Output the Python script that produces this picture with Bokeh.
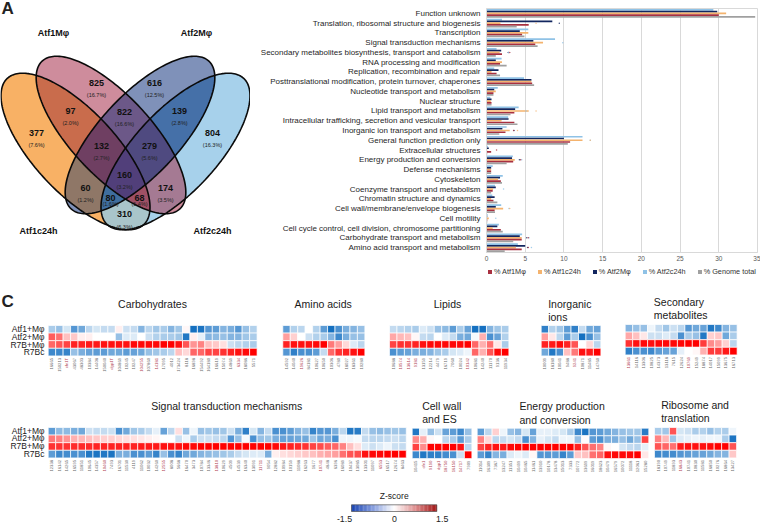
import math
from bokeh.plotting import figure
from bokeh.layouts import column, row
from bokeh.models import FactorRange, Legend, LegendItem, FixedTicker, ColumnDataSource
from bokeh.transform import dodge
from bokeh.core.properties import value
from bokeh.embed import file_html
from bokeh.resources import INLINE

FONT = "Liberation Sans"

# ---------- Panel A values
venn_numbers = ["377", "825", "616", "804", "97", "822", "139", "132", "279", "160", "60", "174", "80", "68", "310"]
venn_percent = ["(7.6%)", "(16.7%)", "(12.5%)", "(16.3%)", "(2.0%)", "(16.6%)", "(2.8%)", "(2.7%)", "(5.6%)",
                "(3.2%)", "(1.2%)", "(3.5%)", "(1.6%)", "(1.4%)", "(6.3%)"]
venn_sets = ["Atf1c24h", "Atf1M\u03c6", "Atf2M\u03c6", "Atf2c24h"]

# ---------- Panel B values
categories = [
    "Function unknown", "Translation, ribosomal structure and biogenesis", "Transcription",
    "Signal transduction mechanisms", "Secondary metabolites biosynthesis, transport and catabolism",
    "RNA processing and modification", "Replication, recombination and repair",
    "Posttranslational modification, protein turnover, chaperones", "Nucleotide transport and metabolism",
    "Nuclear structure", "Lipid transport and metabolism", "Intracellular trafficking, secretion and vesicular transport",
    "Inorganic ion transport and metabolism", "General function prediction only", "Extracellular structures",
    "Energy production and conversion", "Defense mechanisms", "Cytoskeleton", "Coenzyme transport and metabolism",
    "Chromatin structure and dynamics", "Cell wall/membrane/envelope biogenesis", "Cell motility",
    "Cell cycle control, cell division, chromosome partitioning", "Carbohydrate transport and metabolism",
    "Amino acid transport and metabolism"]
atf2c = [29.3, 2.0, 5.4, 8.85, 1.3, 1.95, 1.0, 4.85, 1.45, 0.5, 4.15, 2.8, 2.6, 12.4, 0.2, 3.4, 0.8, 2.1, 1.1, 0.75, 1.9, 0.15, 1.6, 4.6, 4.05]
atf2m = [29.8, 8.5, 4.3, 6.05, 1.9, 1.2, 1.55, 5.8, 1.0, 0.65, 3.7, 2.85, 2.05, 10.0, 0.3, 3.3, 0.6, 1.75, 1.2, 1.05, 1.2, 0.1, 1.4, 4.3, 5.0]
atf1c = [30.95, 1.8, 5.4, 7.3, 1.7, 2.0, 0.65, 5.8, 1.2, 0.55, 5.45, 1.95, 3.0, 12.4, 0.1, 3.65, 0.6, 1.5, 0.85, 0.6, 2.15, 0.3, 0.8, 4.55, 3.8]
atf1m = [30.0, 5.45, 4.6, 6.3, 2.0, 1.75, 1.3, 5.9, 0.9, 0.65, 3.6, 3.6, 2.45, 10.8, 0.6, 3.45, 0.6, 1.85, 0.8, 0.9, 1.05, 0.1, 1.85, 4.55, 4.55]
genome = [34.7, 3.9, 4.9, 6.6, 1.2, 2.6, 1.75, 6.15, 0.9, 0.65, 3.1, 4.0, 1.65, 10.5, 0.1, 2.6, 0.6, 2.0, 0.6, 1.4, 1.1, 0.1, 2.1, 3.45, 2.35]
mark_category = [1, 1, 3, 4, 4, 4, 10, 10, 12, 12, 12, 13, 13, 14, 15, 15, 15, 18, 20, 20, 21, 23, 23, 23, 24, 24, 24]
mark_value = [9.4, 6.4, 9.85, 2.8, 2.85, 3.0, 5.1, 6.4, 3.55, 4.0, 3.5, 13.4, 13.4, 1.3, 4.25, 4.55, 4.4, 2.2, 2.9, 3.0, 1.2, 5.5, 5.2, 5.4, 5.8, 5.3, 5.4]
mark_series = [1, 2, 0, 1, 0, 3, 0, 2, 1, 2, 3, 0, 2, 3, 1, 0, 3, 0, 0, 2, 0, 0, 1, 3, 0, 1, 3]

# ---------- Panel C values
row_names = ["Atf1+M\u03c6", "Atf2+M\u03c6", "R7B+M\u03c6", "R7Bc"]

carb_ids = ["16665", "150213", "cfn1T", "43067", "48303", "10384", "14408", "150040", "dgp1T", "104869", "10245", "10247", "104255", "107860",
            "14181", "17095", "4012", "173424", "8118", "16898", "154492", "164180", "16619", "15074", "14869", "6334", "18086", "5571"]
carb_red = [2, 8, 12, 14, 25]
carb_r1 = [-.5, -.6, -.25, -.95, -.8, -.4, -.25, -.35, -.35, .1, -.3, -.35, -.7, -.4, -.55, -.5, -.7, -.55, .05, -1.4, -1.35, -.95, -.9, -.7, -.75, -.95, -.6, -.45]
carb_r2 = [.95, .85, .4, .35, .1, .1, 0, 0, 0, -.6, -.2, -.2, 0, -.3, -.45, -.5, -.5, -.55, -1.3, .1, -.15, -.7, -.65, -.6, -.7, -.7, -.55, -.5]
carb_r3 = [.9, 1.0, 1.1, 1.3, 1.3, 1.35, 1.35, 1.4, 1.4, 1.4, 1.4, 1.45, 1.45, 1.45, 1.45, 1.5, 1.5, 1.4, 1.0, .65, .75, .4, .35, .2, -.3, -.4, -.45, -.5]
carb_r4 = [-1.1, -1.1, -1.15, -.6, -.75, -.85, -.9, -.9, -.8, -.8, -.9, -.85, -.8, -.6, -.55, -.5, -.4, .4, .25, .9, .9, 1.1, 1.1, 1.2, 1.3, 1.4, 1.45, 1.5]

amino_ids = ["14592", "14040", "19626", "84181", "10627", "10650", "10306", "4780", "18027", "18361", "10280"]
amino_red = [2]
amino_r1 = [-.9, -.45, -.4, 0, -.45, -.9, -1.4, -1.0, -.75, -.7, -.6]
amino_r2 = [.6, .3, 0, -.3, -.45, -.5, -.7, -1.1, -.75, -.6, -.6]
amino_r3 = [1.3, 1.4, 1.4, 1.4, 1.45, 1.5, .8, .6, .25, -.2, -.4]
amino_r4 = [-.95, -1.2, -1.0, -1.0, -.9, -.35, .9, 1.2, 1.3, 1.4, 1.5]

lipid_ids = ["10688", "10574", "13614", "9181", "13159", "12214", "4479", "16719", "7060", "10024", "10142", "10681", "14240", "11170", "9136", "11934"]
lipid_red = [1, 2, 3, 10]
lipid_r1 = [-.35, -.4, -.45, -.5, -.2, -.3, -.6, -.65, -.9, -.5, -.85, -1.4, -1.4, -.7, -.55, -.5]
lipid_r2 = [.55, .45, .4, .05, -.35, -.4, 0, -.2, -.35, -.75, -.8, -.05, .5, -1.0, -.85, -.45]
lipid_r3 = [1.1, 1.2, 1.2, 1.3, 1.4, 1.45, 1.45, 1.45, 1.45, 1.45, 1.5, .9, .5, .85, .15, -.5]
lipid_r4 = [-1.0, -.9, -.85, -.75, -.75, -.7, -.55, -.5, -.25, -.2, -.1, .9, .5, 1.0, 1.45, 1.5]

ion_ids = ["10009", "18180", "10041", "9488", "9241", "10871", "11485", "14760"]
ion_red = [4]
ion_r1 = [-1.2, -.45, -.55, -.9, -1.2, -.35, -.8, -.85]
ion_r2 = [.6, .15, -.4, -.9, -.5, -1.4, -1.0, -.6]
ion_r3 = [1.3, 1.35, 1.45, 1.3, 1.0, 0, .25, -.4]
ion_r4 = [-.8, -1.3, -1.0, .4, .8, 1.4, 1.35, 1.5]

sec_ids = ["13661", "14116", "13306", "10825", "14373", "13118", "7615", "12624", "10769", "15249", "18874", "14017", "15099", "13675", "16713"]
sec_red = [0, 8]
sec_r1 = [-.7, -.6, -.6, -.1, -.35, -.55, -.3, -.4, -.95, -.8, -.85, -1.3, -1.1, -.7, -.6]
sec_r2 = [.55, .4, .15, -.3, -.3, -.2, -.35, -1.0, -.5, -.6, -1.3, .3, .35, -.8, -.5]
sec_r3 = [1.2, 1.4, 1.45, 1.4, 1.45, 1.45, 1.45, 1.45, 1.5, 1.5, 1.15, .7, .6, .3, -.4]
sec_r4 = [-1.2, -1.0, -1.0, -1.1, -.9, -.85, -.85, -.15, 0, .05, .5, 1.15, 1.15, 1.35, 1.5]

sig_ids = ["12338", "16142", "14265", "16595", "11851", "10645", "14357", "10460", "7493", "16701", "11530", "4119", "11062", "10032", "14260", "12555",
           "8008", "5668", "16470", "3473", "10784", "13346", "13810", "10629", "4509", "14539", "16340", "13091", "11711", "9054", "12882", "10984",
           "10159", "11088", "16263", "1677", "10741", "4848", "6396", "16089", "10437", "13085", "13301", "11097", "6553", "16517", "12674", "8463"]
sig_red = [7, 15, 22, 28, 36, 44]
sig_r1 = [-.9, -.65, -.65, -.75, -.8, -.3, -.35, -.35, -.3, -1.0, -.8, -.55, -.5, -.35, -.15, -.85, -.4, .2, -.6, -.1, -.6, -.55, -.6, -.55, -.3, -.75, -1.2, -.25, -.7, -.35,
          -1.0, -1.0, -.9, -.7, -.6, -1.15, -.95, -.95, -.75, -.4, -1.3, -1.25, -.35, -.6, -.65, -.6, -.55, -.6]
sig_r2 = [.8, .75, .65, .5, .45, .4, .35, .3, .3, .25, .2, .2, .15, .1, .05, 0, 0, -.3, -.1, -.5, -.3, -.3, -.35, -.4, -.95, -.6, -.05, -1.0, -.6, -.55,
          -.75, -.85, -.85, -.8, -.8, -.55, -.8, -.75, -1.0, -.1, -.1, -.05, -.35, -.4, -.4, -.35, -.3, -.4]
sig_r3 = [1.2, 1.2, 1.2, 1.25, 1.25, 1.25, 1.3, 1.3, 1.3, 1.3, 1.3, 1.3, 1.35, 1.35, 1.35, 1.4, 1.4, 1.4, 1.45, 1.45, 1.5, 1.5, 1.5, 1.5, 1.5, 1.5, 1.5, 1.5, 1.5, 1.5,
          1.45, 1.35, 1.3, 1.25, 1.2, 1.1, 1.05, .95, .9, .75, .4, .2, -.2, -.3, -.2, -.1, -.3, -.35]
sig_r4 = [-.9, -1.1, -1.05, -1.0, -1.0, -1.3, -1.35, -1.3, -1.35, -.75, -.75, -1.0, -1.0, -.9, -1.15, -.6, -1.0, -1.15, -.8, -.8, -.7, -.65, -.6, -.55, -.5, -.35, -.25, -.2, -.2, -.75,
          .1, .2, .25, .3, .35, .4, .5, .55, .6, .85, 1.0, 1.05, 1.4, 1.45, 1.45, 1.5, 1.5, 1.5]

wall_ids = ["10415", "cfn1", "9190", "dgp1", "18750", "16150", "14717", "7909"]
wall_red = [1, 2, 3, 4, 5, 6]
wall_r1 = [-1.3, -.15, -.6, -.3, -.85, -.9, -1.1, -.6]
wall_r2 = [.7, .5, .05, 0, -.4, -.5, -.9, -.5]
wall_r3 = [1.1, .7, 1.5, 1.5, 1.5, 1.5, 1.4, -.4]
wall_r4 = [-1.1, -1.3, -1.2, -1.2, -1.05, -1.0, -.3, 1.5]

energy_ids = ["11014", "16309", "7367", "13247", "11351", "10499", "10465", "11461", "13910", "10178", "13478", "15013", "7333", "10772", "13699",
              "16019", "18623", "10479", "16579", "10072", "11118", "12061", "15280"]
energy_red = []
energy_r1 = [-.9, -.4, .3, -.1, -.6, -.7, -.25, -.85, -.15, -.15, -.2, -.25, -.5, -1.1, -1.35, -.95, -.9, -.8, -.7, -.6, -.55, -.55, -1.25]
energy_r2 = [.75, .25, -.4, -.35, -.25, -.35, -1.0, -.7, -.15, -.25, -.35, -.1, -.1, -.6, .02, -.9, -1.0, -.75, -.75, -.6, -.8, -.6, 1.1]
energy_r3 = [1.1, 1.3, 1.4, 1.35, 1.45, 1.5, 1.5, 1.5, 1.5, 1.5, 1.5, 1.5, 1.5, 1.3, 1.0, .85, .75, .05, 0, -.25, -.35, -.4, -.15]
energy_r4 = [-.9, -1.15, -.7, -.75, -.2, -.1, -.2, .05, -.95, -.95, -.9, -1.15, -.9, .35, .4, .85, .9, 1.4, 1.45, 1.45, 1.45, 1.5, .15]

ribo_ids = ["18190", "10749", "11893", "16843", "10741", "10830", "11581", "16850", "10276", "16864", "13427"]
ribo_red = [3]
ribo_r1 = [-.5, -.55, 1.0, -.25, -.3, -.5, -.45, -.6, -.45, -.5, -.1]
ribo_r2 = [.75, .45, -.55, -.2, -.15, -.1, -.15, -.1, -.1, -.5, -1.35]
ribo_r3 = [1.0, .9, .85, 1.35, 1.4, 1.4, 1.4, 1.45, 1.5, 1.5, 1.0]
ribo_r4 = [-1.1, -1.05, -1.05, -.95, -.9, -.85, -.85, -.8, -.7, -.7, .35]

zscale_ticks = ["-1.5", "0", "1.5"]

TOP_H = 264


def blank(w, h, x0, y0):
    p = figure(width=w, height=h, x_range=(x0, x0 + w), y_range=(y0 + h, y0), output_backend="svg",
               toolbar_location=None, min_border=0, tools="", frame_align=False)
    p.axis.visible = False
    p.grid.visible = False
    p.outline_line_color = None
    p.background_fill_alpha = 0
    p.border_fill_alpha = 0
    return p


def put(p, x, y, s, size, bold=False, align="center", color="#1a1a1a", angle=0, baseline="middle"):
    p.text([x], [y], text=[s], text_font=value(FONT), text_font_size=f"{size}px",
           text_font_style="bold" if bold else "normal", text_align=align, text_baseline=baseline,
           text_color=color, angle=angle)


# ---------- A: Venn from painted convex intersections
def ellipse_pts(cx, cy, a, b, deg, n=200):
    t = math.radians(deg)
    pts = []
    for i in range(n):
        u = 2 * math.pi * i / n
        ex, ey = a * math.cos(u), b * math.sin(u)
        pts.append((cx + ex * math.cos(t) - ey * math.sin(t), cy + ex * math.sin(t) + ey * math.cos(t)))
    return pts


def clip(subject, clipper):
    out = subject
    for i in range(len(clipper)):
        ax, ay = clipper[i]
        bx, by = clipper[(i + 1) % len(clipper)]
        inp, out = out, []
        if not inp:
            break
        side = lambda q: (bx - ax) * (q[1] - ay) - (by - ay) * (q[0] - ax)
        for j in range(len(inp)):
            c, d = inp[j], inp[(j + 1) % len(inp)]
            sc, sd = side(c), side(d)
            if sc >= 0:
                out.append(c)
            if (sc >= 0) != (sd >= 0):
                k = sc / (sc - sd)
                out.append((c[0] + k * (d[0] - c[0]), c[1] + k * (d[1] - c[1])))
    return out


venn = blank(250, TOP_H, 0, 0)
ell = [ellipse_pts(75, 151, 100, 41, 47), ellipse_pts(110.5, 134.5, 101, 40, 47),
       ellipse_pts(139.5, 134.5, 101, 40, 133), ellipse_pts(175, 151, 100, 41, 133)]
region_colors = {
    (0,): "#F8B165", (1,): "#CE8C9C", (2,): "#7F91B9", (3,): "#A7D1EB",
    (0, 1): "#C96C4C", (1, 2): "#6C5888", (2, 3): "#4570A8", (0, 2): "#8F7767", (1, 3): "#A57A93", (0, 3): "#A9C5CA",
    (0, 1, 2): "#6F3F62", (1, 2, 3): "#4F4A80", (0, 2, 3): "#3F6E9E", (0, 1, 3): "#9F5065",
    (0, 1, 2, 3): "#513F7A"}
for key in sorted(region_colors, key=len):
    poly = ell[key[0]]
    for k in key[1:]:
        poly = clip(poly, ell[k])
    if poly:
        venn.patch([q[0] for q in poly], [q[1] for q in poly], fill_color=region_colors[key], line_color=None)
for e in ell:
    venn.line([q[0] for q in e] + [e[0][0]], [q[1] for q in e] + [e[0][1]], line_color="#0a0a0a", line_width=1.6)
num_pos = [(36, 132), (96, 82), (154, 82), (212, 132), (70, 110), (124, 111), (179, 110), (101, 145), (149, 145),
           (124, 174), (85, 187), (165, 187), (110, 197), (139, 197), (124, 213)]
pct_off = [12] * 12 + [6, 6, 13]
for s, t, (x, y), d in zip(venn_numbers, venn_percent, num_pos, pct_off):
    put(venn, x, y, s, 9, bold=True, color="#111111")
    put(venn, x, y + d, t, 5.5, color="#222222")
for s, (x, y) in zip(venn_sets, [(38, 230), (53, 32), (196, 32), (212, 230)]):
    put(venn, x, y, s, 9, bold=True, color="#111111")
put(venn, 1, 8, "A", 17, bold=True, align="left", color="#222222")

# ---------- B: bars
bars = figure(width=510, height=TOP_H, y_range=FactorRange(factors=categories[::-1], range_padding=0, factor_padding=0),
              x_range=(0, 35), output_backend="svg", toolbar_location=None, tools="", frame_align=False,
              min_border_left=236, min_border_right=3, min_border_top=8, min_border_bottom=12)
bars.background_fill_alpha = 0
bars.border_fill_alpha = 0
bars.outline_line_color = "#D9D9D9"
src = ColumnDataSource(dict(cat=categories, atf2c=atf2c, atf2m=atf2m, atf1c=atf1c, atf1m=atf1m, genome=genome))
series_colors = dict(atf2c="#8FC2E6", atf2m="#12265F", atf1c="#F4B36E", atf1m="#A83040", genome="#A0A0A0")
for name, off in zip(["atf2c", "atf2m", "atf1c", "atf1m", "genome"], [.36, .18, 0, -.18, -.36]):
    bars.hbar(y=dodge("cat", off, range=bars.y_range), right=name, left=0, height=.175,
              source=src, fill_color=series_colors[name], line_color=None)
mark_palette = ["#8FC2E6", "#12265F", "#F4B36E", "#A83040"]
bars.scatter(mark_value, [categories[c] for c in mark_category], size=1.5,
             fill_color=[mark_palette[s] for s in mark_series], line_color=None, alpha=.8)
bars.xaxis.ticker = FixedTicker(ticks=list(range(0, 36, 5)))
bars.xgrid.grid_line_color = "#D9D9D9"
bars.ygrid.grid_line_color = None
bars.xaxis.axis_line_color = "#D9D9D9"
bars.yaxis.axis_line_color = "#D9D9D9"
bars.xaxis.major_tick_line_color = None
bars.yaxis.major_tick_line_color = None
bars.xaxis.minor_tick_line_color = None
bars.yaxis.minor_tick_line_color = None
bars.xaxis.major_tick_out = 0
bars.yaxis.major_tick_out = 0
bars.xaxis.major_label_text_font = FONT
bars.xaxis.major_label_text_font_size = "6.5px"
bars.xaxis.major_label_text_color = "#595959"
bars.xaxis.major_label_standoff = 3
bars.yaxis.major_label_text_font = FONT
bars.yaxis.major_label_text_font_size = "8px"
bars.yaxis.major_label_text_color = "#262626"
bars.yaxis.major_label_standoff = 6
bars.text([0], [categories[0]], text=["B"], text_font=value(FONT), text_font_size="17px", text_font_style="bold",
          text_color="#222222", x_offset=-227, y_offset=-4, text_align="left", text_baseline="middle")

# ---------- C: heat maps (this frame also carries the legend of panel B)
heat = blank(760, 523 - TOP_H, 0, TOP_H)
legend_items = []
for key, label in [("atf1m", "% Atf1M\u03c6"), ("atf1c", "% Atf1c24h"), ("atf2m", "% Atf2M\u03c6"),
                   ("atf2c", "% Atf2c24h"), ("genome", "% Genome total")]:
    swatch = heat.rect(x=[-50], y=[300], width=5, height=5, fill_color=series_colors[key], line_color=None)
    legend_items.append(LegendItem(label=label, renderers=[swatch]))
legend = Legend(items=legend_items, orientation="horizontal", location=(487, 523 - 276), border_line_color=None,
                background_fill_alpha=0, glyph_width=5, glyph_height=5, label_standoff=2, spacing=11, padding=0, margin=0,
                label_text_font=FONT, label_text_font_size="7.3px", label_text_color="#333333")
heat.add_layout(legend, "center")

stops = [(-1.5, (8, 104, 188)), (-1.0, (74, 144, 208)), (-.5, (170, 204, 234)), (0, (255, 255, 255)),
         (.5, (255, 176, 176)), (1.0, (255, 84, 84)), (1.5, (255, 0, 0))]


def lerp_color(v, table):
    v = max(table[0][0], min(table[-1][0], v))
    for (a, ca), (b, cb) in zip(table, table[1:]):
        if v <= b:
            k = (v - a) / (b - a)
            return "#%02x%02x%02x" % tuple(round(x + k * (y - x)) for x, y in zip(ca, cb))
    return "#000000"


groups = [
    (47.7, 325, carb_ids, carb_red, [carb_r1, carb_r2, carb_r3, carb_r4]),
    (282.3, 325, amino_ids, amino_red, [amino_r1, amino_r2, amino_r3, amino_r4]),
    (389, 325, lipid_ids, lipid_red, [lipid_r1, lipid_r2, lipid_r3, lipid_r4]),
    (540.7, 325, ion_ids, ion_red, [ion_r1, ion_r2, ion_r3, ion_r4]),
    (624.7, 324, sec_ids, sec_red, [sec_r1, sec_r2, sec_r3, sec_r4]),
    (47.7, 427, sig_ids, sig_red, [sig_r1, sig_r2, sig_r3, sig_r4]),
    (411.7, 427.7, wall_ids, wall_red, [wall_r1, wall_r2, wall_r3, wall_r4]),
    (476.7, 427.7, energy_ids, energy_red, [energy_r1, energy_r2, energy_r3, energy_r4]),
    (654, 427, ribo_ids, ribo_red, [ribo_r1, ribo_r2, ribo_r3, ribo_r4]),
]
CW, CH = 7.46, 7.6
xs, ys, cols = [], [], []
for x0, y0, ids, reds, rows in groups:
    for r, vals in enumerate(rows):
        for c, v in enumerate(vals):
            xs.append(x0 + (c + .5) * CW)
            ys.append(y0 + (r + .5) * CH)
            cols.append(lerp_color(v, stops))
    for c, s in enumerate(ids):
        heat.text([x0 + (c + .5) * CW], [y0 + 4 * CH + 2], text=[s], text_font=value(FONT), text_font_size="4.2px",
                  text_align="right", text_baseline="middle", angle=math.pi / 2,
                  text_color="#B04050" if c in reds else "#6a6a6a")
heat.rect(xs, ys, width=CW, height=CH, fill_color=cols, line_color="white", line_width=.7)

for y0 in (328.8, 430.2):
    for r, s in enumerate(row_names):
        put(heat, 44, y0 + r * 7.65, s, 8.5, align="right")

for s, x, y in [("Carbohydrates", 152, 303), ("Amino acids", 322.7, 303), ("Lipids", 447, 303)]:
    put(heat, x, y, s, 10.5)
for s, x, y in [("Inorganic", 547.7, 303), ("ions", 547.7, 316), ("Secondary", 653.3, 301), ("metabolites", 653.3, 314.3),
                ("Signal transduction mechanisms", 150.7, 405), ("Cell wall", 421.7, 405), ("and ES", 421.7, 418.3),
                ("Energy production", 519, 405.7), ("and conversion", 519, 419), ("Ribosome and", 660.7, 404.3),
                ("translation", 660.7, 417.7)]:
    put(heat, x, y, s, 10.5, align="left")
put(heat, 1, 301, "C", 17, bold=True, align="left", color="#222222")

# colour scale
bar_stops = [(-1.5, (21, 64, 176)), (-.75, (130, 155, 222)), (0, (255, 255, 255)), (.75, (222, 140, 140)), (1.5, (160, 16, 16))]
levels = [-1.5 + 3 * (i + .5) / 64 for i in range(64)]
heat.rect([393.65 + lv * 85.3 / 3 for lv in levels], [507.7] * 64, width=85.3 / 64 + .2, height=6.7,
          fill_color=[lerp_color(v, bar_stops) for v in levels], line_color=None)
heat.quad(left=[351], right=[436.3], top=[504.3], bottom=[511], fill_color=None, line_color="#555555", line_width=.7)
put(heat, 393.7, 495.3, "Z-score", 8.5, color="#222222")
for s, x in zip(zscale_ticks, [344, 394, 441.7]):
    put(heat, x, 518.5, s, 8.8, color="#222222")

layout = column(row(venn, bars, spacing=0), heat, spacing=0)
open("out.html", "w").write(file_html(layout, INLINE))
